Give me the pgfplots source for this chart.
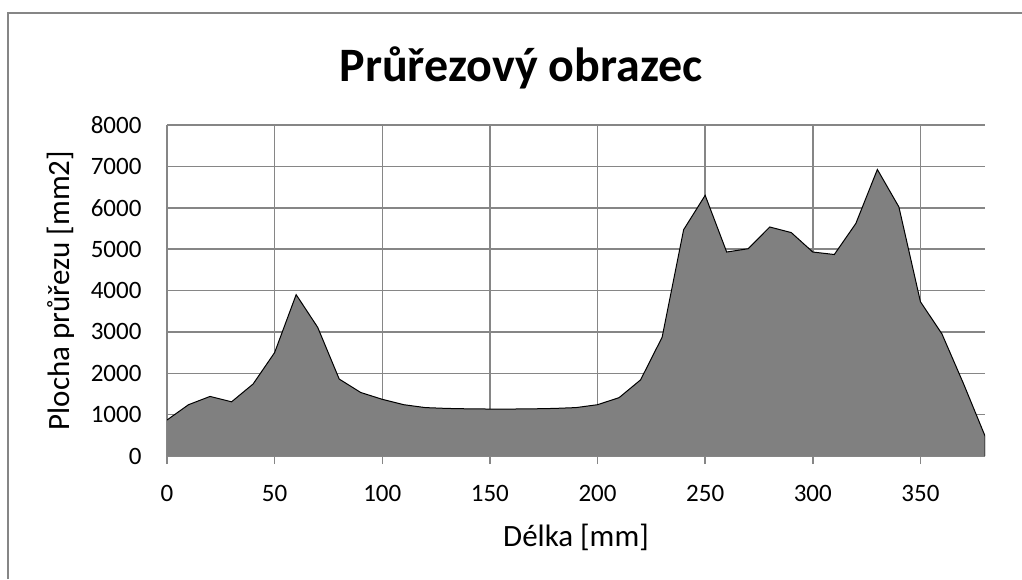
\documentclass[border=0pt]{standalone}
\usepackage{fontspec}
\setmainfont{Carlito}
\usepackage{pgfplots}
\pgfplotsset{compat=1.18}
\definecolor{gridgray}{HTML}{868686}
\definecolor{areagray}{HTML}{808080}

\pgfplotstableread{
x y
0 870
10 1240
20 1440
30 1310
40 1740
50 2500
60 3900
70 3110
80 1860
90 1535
100 1370
110 1240
120 1170
130 1150
140 1140
150 1135
160 1135
170 1140
180 1150
190 1170
200 1240
210 1410
220 1840
230 2870
240 5470
250 6300
260 4930
270 5010
280 5535
290 5400
300 4930
310 4870
320 5620
330 6925
340 6020
350 3730
360 2950
370 1750
380 485
}\profil

\begin{document}
\begin{tikzpicture}[x=1pt,y=1pt]
\useasboundingbox (0,0) rectangle (1022,579);
% chart area frame (cropped at right and bottom)
\draw[gridgray, line width=1.5pt] (8,0) -- (8,566) -- (1022,566);
\begin{axis}[
    at={(167pt,123pt)}, anchor=south west,
    scale only axis, width=818pt, height=331pt,
    xmin=0, xmax=380, ymin=0, ymax=8000,
    xtick={0,50,...,350}, ytick={0,1000,...,8000},
    axis x line*=bottom, axis y line*=left,
    axis line style={gridgray, line width=1.5pt},
    grid=major, major grid style={gridgray, line width=1.5pt},
    tick align=outside, major tick length=8pt,
    xtick style={gridgray, line width=1.5pt},
    ytick style={/pgfplots/major tick length=0pt},
    scaled ticks=false,
    /pgf/number format/1000 sep={},
    /pgf/number format/assume math mode=true,
    ticklabel style={font=\fontsize{25}{29}\selectfont},
    xticklabel style={yshift=-18pt},
    yticklabel style={xshift=-14pt},
    xlabel={Délka [mm]},
    ylabel={Plocha průřezu [mm2]},
    label style={font=\fontsize{31}{36}\selectfont},
    xlabel style={at={(axis description cs:0.5,0)}, anchor=center, yshift=-81pt},
    ylabel style={at={(axis description cs:-0.1296,0.5)}, anchor=center},
]
\addplot[fill=areagray, draw=none] table {\profil} \closedcycle;
\addplot[black, line width=1pt, mark=none] table {\profil} -- (axis cs:380,0);
\end{axis}
\node[font=\fontsize{48}{56}\selectfont\bfseries] at (521,511) {Průřezový obrazec};
\end{tikzpicture}
\end{document}
